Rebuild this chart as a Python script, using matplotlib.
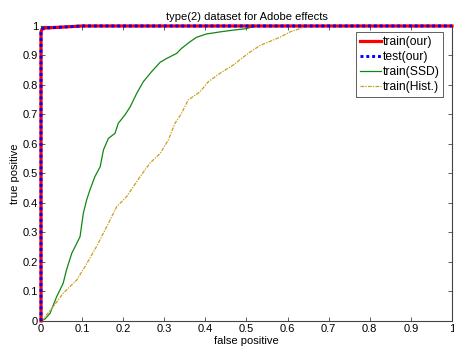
import matplotlib
matplotlib.use("Agg")
import matplotlib.pyplot as plt

plt.rcParams['font.family'] = ['Liberation Sans', 'DejaVu Sans']

title = "type(2) dataset for Adobe effects"
xlabel = "false positive"
ylabel = "true positive"
labels = ["train(our)", "test(our)", "train(SSD)", "train(Hist.)"]

our_fp = [0.0, 0.0, 0.003, 0.01, 0.05, 0.1, 1.0]
our_tp = [0.0, 0.98, 0.99, 0.993, 0.996, 1.0, 1.0]

ssd_fp = [0.0, 0.01, 0.022, 0.038, 0.054, 0.062, 0.075, 0.087, 0.095, 0.103, 0.111,
          0.119, 0.131, 0.144, 0.152, 0.164, 0.18, 0.188, 0.204, 0.217, 0.233, 0.249,
          0.269, 0.29, 0.306, 0.33, 0.342, 0.363, 0.379, 0.403, 0.436, 0.468, 0.5,
          0.509, 0.529, 1.0]
ssd_tp = [0.0, 0.007, 0.026, 0.082, 0.128, 0.173, 0.23, 0.263, 0.286, 0.365, 0.41,
          0.444, 0.489, 0.523, 0.58, 0.619, 0.636, 0.67, 0.698, 0.726, 0.772, 0.811,
          0.845, 0.877, 0.89, 0.907, 0.924, 0.947, 0.962, 0.973, 0.98, 0.986, 0.991,
          0.995, 1.0, 1.0]

hist_fp = [0.0, 0.006, 0.03, 0.054, 0.087, 0.107, 0.135, 0.16, 0.184, 0.208, 0.241,
           0.265, 0.29, 0.31, 0.326, 0.342, 0.358, 0.387, 0.407, 0.436, 0.468, 0.504,
           0.533, 0.582, 0.606, 0.63, 0.642, 1.0]
hist_tp = [0.0, 0.007, 0.049, 0.094, 0.139, 0.184, 0.252, 0.32, 0.387, 0.421, 0.489,
           0.535, 0.568, 0.614, 0.67, 0.704, 0.749, 0.777, 0.811, 0.84, 0.868, 0.907,
           0.934, 0.962, 0.98, 0.991, 1.0, 1.0]

ticks = [0, 0.1, 0.2, 0.3, 0.4, 0.5, 0.6, 0.7, 0.8, 0.9, 1]
ticklabels = ["0", "0.1", "0.2", "0.3", "0.4", "0.5", "0.6", "0.7", "0.8", "0.9", "1"]

fig = plt.figure(figsize=(4.54, 3.51), dpi=100)
ax = fig.add_axes([0.0903, 0.0855, 0.9053, 0.8405])

ax.plot(ssd_fp, ssd_tp, color="#108810", lw=0.9, label=labels[2], zorder=2)
ax.plot(hist_fp, hist_tp, color="#c8a020", lw=0.9, ls=(0, (3, 1, 1, 1)), label=labels[3], zorder=2)
ax.plot(our_fp, our_tp, color="#ff0000", lw=2.3, label=labels[0], zorder=3, clip_on=False)
ax.plot(our_fp, our_tp, color="#0000ff", lw=2.1, ls=(0, (1, 1)), label=labels[1], zorder=4, clip_on=False)

ax.set_xlim(0, 1)
ax.set_ylim(0, 1)
ax.set_xticks(ticks)
ax.set_xticklabels(ticklabels)
ax.set_yticks(ticks)
ax.set_yticklabels(ticklabels)
ax.tick_params(direction="in", top=True, right=True, labelsize=8, length=3, width=0.6,
               color="#444444", pad=2)
for s in ax.spines.values():
    s.set_linewidth(0.8)
    s.set_color("#444444")
ax.set_title(title, fontsize=8, pad=4)
ax.set_xlabel(xlabel, fontsize=8, labelpad=1.5)
ax.set_ylabel(ylabel, fontsize=8, labelpad=2)

h, l = ax.get_legend_handles_labels()
order = [2, 3, 0, 1]
leg = ax.legend([h[i] for i in order], [l[i] for i in order], loc="upper right",
                bbox_to_anchor=(0.978, 0.978), fontsize=8.7, fancybox=False, framealpha=1,
                edgecolor="#444444", handlelength=1.75, handletextpad=0.15,
                borderpad=0.3, labelspacing=0.25, borderaxespad=0)
leg.get_frame().set_linewidth(0.6)

fig.savefig("out.png", dpi=100)
